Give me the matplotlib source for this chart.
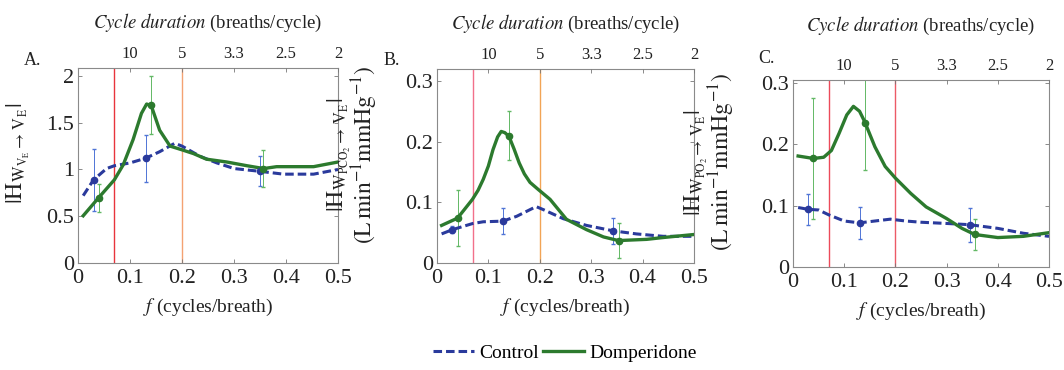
import matplotlib
matplotlib.use('Agg')
import matplotlib.pyplot as plt
from matplotlib.lines import Line2D

plt.rcParams['font.family'] = ['Liberation Serif', 'DejaVu Serif']
plt.rcParams['mathtext.fontset'] = 'stix'

# ---- data ----
# panel A
a_ctrl_f = [0.01, 0.03, 0.055, 0.07, 0.1, 0.13, 0.157, 0.186, 0.2, 0.235, 0.267, 0.3, 0.35, 0.395, 0.453, 0.5]
a_ctrl_v = [0.72, 0.89, 1.01, 1.04, 1.07, 1.12, 1.19, 1.28, 1.25, 1.14, 1.07, 1.01, 0.98, 0.95, 0.95, 1.0]
a_dom_f = [0.01, 0.04, 0.07, 0.087, 0.106, 0.122, 0.132, 0.141, 0.157, 0.177, 0.2, 0.222, 0.247, 0.286, 0.325, 0.357, 0.382, 0.453, 0.5]
a_dom_v = [0.505, 0.70, 0.89, 1.05, 1.32, 1.60, 1.70, 1.68, 1.42, 1.25, 1.21, 1.17, 1.11, 1.08, 1.04, 1.01, 1.03, 1.03, 1.08]
a_ctrl_err_f = [0.03, 0.13, 0.35]
a_ctrl_err_v = [0.89, 1.12, 0.98]
a_ctrl_err_e = [0.33, 0.25, 0.16]
a_dom_err_f = [0.04, 0.14, 0.355]
a_dom_err_v = [0.70, 1.69, 1.01]
a_dom_err_e = [0.15, 0.31, 0.20]

# panel B
b_ctrl_f = [0.009, 0.03, 0.069, 0.09, 0.128, 0.155, 0.181, 0.193, 0.207, 0.246, 0.291, 0.343, 0.388, 0.44, 0.5]
b_ctrl_v = [0.048, 0.055, 0.065, 0.068, 0.069, 0.077, 0.088, 0.093, 0.088, 0.073, 0.062, 0.053, 0.048, 0.044, 0.044]
b_dom_f = [0.009, 0.04, 0.069, 0.08, 0.09, 0.1, 0.109, 0.118, 0.125, 0.132, 0.14, 0.15, 0.16, 0.17, 0.181, 0.196, 0.22, 0.252, 0.291, 0.324, 0.353, 0.408, 0.44, 0.5]
b_dom_v = [0.062, 0.074, 0.105, 0.12, 0.138, 0.16, 0.187, 0.208, 0.217, 0.215, 0.209, 0.188, 0.165, 0.147, 0.133, 0.122, 0.105, 0.072, 0.055, 0.043, 0.037, 0.039, 0.042, 0.047]
b_ctrl_err_f = [0.03, 0.128, 0.343]
b_ctrl_err_v = [0.055, 0.069, 0.053]
b_ctrl_err_e = [0.006, 0.021, 0.021]
b_dom_err_f = [0.04, 0.14, 0.355]
b_dom_err_v = [0.074, 0.21, 0.037]
b_dom_err_e = [0.046, 0.04, 0.029]

# panel C
c_ctrl_f = [0.01, 0.03, 0.05, 0.07, 0.1, 0.13, 0.16, 0.19, 0.22, 0.25, 0.3, 0.345, 0.4, 0.45, 0.5]
c_ctrl_v = [0.097, 0.094, 0.093, 0.085, 0.075, 0.072, 0.075, 0.078, 0.075, 0.073, 0.071, 0.069, 0.063, 0.055, 0.050]
c_dom_f = [0.01, 0.04, 0.06, 0.075, 0.09, 0.105, 0.118, 0.13, 0.14, 0.16, 0.18, 0.2, 0.23, 0.26, 0.3, 0.33, 0.355, 0.4, 0.45, 0.5]
c_dom_v = [0.181, 0.177, 0.179, 0.19, 0.218, 0.248, 0.262, 0.254, 0.237, 0.196, 0.164, 0.145, 0.12, 0.098, 0.079, 0.063, 0.053, 0.048, 0.050, 0.056]
c_ctrl_err_f = [0.03, 0.13, 0.345]
c_ctrl_err_v = [0.094, 0.072, 0.069]
c_ctrl_err_e = [0.025, 0.026, 0.028]
c_dom_err_f = [0.04, 0.14, 0.355]
c_dom_err_v = [0.177, 0.235, 0.053]
c_dom_err_e = [0.099, 0.076, 0.026]

top_ticks = [0.1, 0.2, 0.3, 0.4, 0.5]
top_labels = ['10', '5', '3.3', '2.5', '2']
band_f = [0.07, 0.2]

blue = '#2a3a9c'
green = '#2c7a2e'
blue_err = '#4f74d6'
green_err = '#62b865'
dash = (0, (2.8, 1.3))

unit_lbl = '\n$(\\mathrm{L\\,min}^{\\mathrm{-1}}\\mathrm{mmHg}^{\\mathrm{-1}})$'
panels = [
    dict(rect=[0.0733, 0.2892, 0.2444, 0.5270], ylim=2.085, yticks=[0, 0.5, 1, 1.5, 2],
         yticklabels=['0', '0.5', '1', '1.5', '2'],
         ylabel=r'$|\mathrm{H}_{\mathrm{W}_{\mathrm{V}_\mathrm{E}}\rightarrow\,\mathrm{V}_\mathrm{E}}|$',
         ylx=-0.177, letter='A.', lpos=(0.022, 0.825), top_pad=13,
         band_colors=['#e8343c', '#f4a272'],
         ctrl=(a_ctrl_f, a_ctrl_v), dom=(a_dom_f, a_dom_v),
         ce=(a_ctrl_err_f, a_ctrl_err_v, a_ctrl_err_e), de=(a_dom_err_f, a_dom_err_v, a_dom_err_e)),
    dict(rect=[0.4107, 0.2892, 0.2415, 0.5243], ylim=0.32, yticks=[0, 0.1, 0.2, 0.3],
         yticklabels=['0', '0.1', '0.2', '0.3'],
         ylabel='$|\\mathrm{H}_{\\mathrm{W}_{\\mathrm{PCO}_2}\\rightarrow\\,\\mathrm{V}_\\mathrm{E}}|$' + unit_lbl,
         ylx=-0.222, letter='B.', lpos=(0.360, 0.825), top_pad=13,
         band_colors=['#f2708a', '#f2a456'],
         ctrl=(b_ctrl_f, b_ctrl_v), dom=(b_dom_f, b_dom_v),
         ce=(b_ctrl_err_f, b_ctrl_err_v, b_ctrl_err_e), de=(b_dom_err_f, b_dom_err_v, b_dom_err_e)),
    dict(rect=[0.7453, 0.2784, 0.2406, 0.5054], ylim=0.305, yticks=[0, 0.1, 0.2, 0.3],
         yticklabels=['0', '0.1', '0.2', '0.3'],
         ylabel='$|\\mathrm{H}_{\\mathrm{W}_{\\mathrm{PO}_2}\\rightarrow\\,\\mathrm{V}_\\mathrm{E}}|$' + unit_lbl,
         ylx=-0.219, letter='C.', lpos=(0.713, 0.83), top_pad=20,
         band_colors=['#ec4a5a', '#ec5a66'],
         ctrl=(c_ctrl_f, c_ctrl_v), dom=(c_dom_f, c_dom_v),
         ce=(c_ctrl_err_f, c_ctrl_err_v, c_ctrl_err_e), de=(c_dom_err_f, c_dom_err_v, c_dom_err_e)),
]

fig = plt.figure(figsize=(10.64, 3.70), dpi=100)

for p in panels:
    ax = fig.add_axes(p['rect'])
    for fx, col in zip(band_f, p['band_colors']):
        ax.axvline(fx, color=col, lw=1.0, zorder=1)

    ef, ev, ee = p['ce']
    ax.errorbar(ef, ev, yerr=ee, fmt='none', ecolor=blue_err, elinewidth=0.7, capsize=1.5, zorder=2)
    ef, ev, ee = p['de']
    ax.errorbar(ef, ev, yerr=ee, fmt='none', ecolor=green_err, elinewidth=0.7, capsize=1.5, zorder=2)

    ax.plot(p['ctrl'][0], p['ctrl'][1], color=blue, lw=2.2, ls=dash, zorder=3)
    ax.plot(p['dom'][0], p['dom'][1], color=green, lw=2.4, zorder=4)
    ax.plot(p['ce'][0], p['ce'][1], 'o', color=blue, ms=4.5, zorder=5)
    ax.plot(p['de'][0], p['de'][1], 'o', color=green, ms=4.5, zorder=5)

    ax.set_xlim(0, 0.5)
    ax.set_ylim(0, p['ylim'])
    ax.set_xticks([0, 0.1, 0.2, 0.3, 0.4, 0.5])
    ax.set_xticklabels(['0', '0.1', '0.2', '0.3', '0.4', '0.5'])
    ax.set_yticks(p['yticks'])
    ax.set_yticklabels(p['yticklabels'])
    ax.tick_params(direction='in', length=3, width=0.6, colors='#777777', labelcolor='#222222',
                   labelsize=16, right=True, pad=2)
    ax.tick_params(axis='x', pad=4)
    ax.tick_params(axis='y', pad=3)
    for s in ax.spines.values():
        s.set_color('#8a8a8a')
        s.set_linewidth(0.8)

    ax.set_xlabel(r'$\mathit{f}$ (cycles/breath)', fontsize=14, color='#222222', labelpad=7)
    ax.set_ylabel(p['ylabel'], fontsize=17, color='#222222', linespacing=0.85)
    ax.yaxis.set_label_coords(p['ylx'], 0.56)

    top = ax.twiny()
    top.set_xlim(0, 0.5)
    top.set_xticks(top_ticks)
    top.set_xticklabels(top_labels)
    top.tick_params(direction='in', length=3, width=0.6, colors='#777777', labelcolor='#222222',
                    labelsize=12, pad=4)
    top.spines[:].set_visible(False)
    top.set_xlabel(r'$\mathit{Cycle\ duration}$ (breaths/cycle)', fontsize=13.5, color='#222222',
                   labelpad=p['top_pad'])

    fig.text(p['lpos'][0], p['lpos'][1], p['letter'], fontsize=13, color='#222222')

handles = [Line2D([], [], color=blue, lw=2.2, ls=dash),
           Line2D([], [], color=green, lw=2.4)]
fig.legend(handles, ['Control', 'Domperidone'], loc='center', bbox_to_anchor=(0.531, 0.045),
           ncol=2, frameon=False, fontsize=14, handlelength=2.1, handletextpad=0.3, columnspacing=0.2)

fig.savefig('out.png', dpi=100)
